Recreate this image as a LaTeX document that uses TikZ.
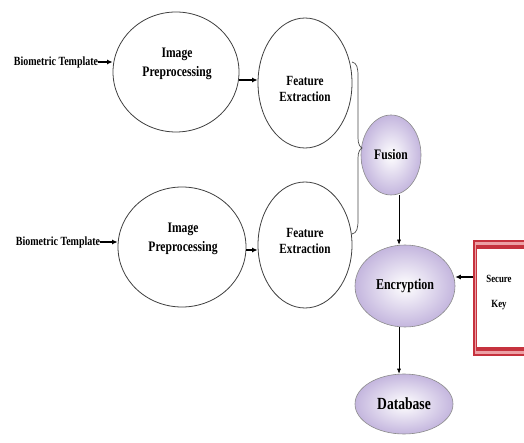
\documentclass[tikz,border=0pt]{standalone}
\usepackage{fontspec}
\setmainfont{Liberation Serif}[FakeStretch=0.8]
\usetikzlibrary{shapes.geometric,arrows.meta,calc}
\definecolor{lav}{RGB}{196,182,222}
\definecolor{keyred}{RGB}{198,50,62}
\definecolor{keypink}{RGB}{236,160,165}
\tikzset{
  plainell/.style={ellipse, draw=black!75, line width=0.8pt, inner sep=0pt},
  shadeell/.style={ellipse, draw=black!45, line width=0.6pt, inner color=white, outer color=lav, align=center, inner sep=0pt},
  lbl/.style={font=\bfseries\fontsize{12.5}{14}\selectfont, inner sep=0pt},
  ipfont/.style={font=\bfseries\fontsize{14.5}{19}\selectfont, align=center, inner sep=0pt},
  fefont/.style={font=\bfseries\fontsize{14}{16}\selectfont, align=center, inner sep=0pt},
  arr/.style={-{Latex[length=5.5pt,width=5pt]}, line width=1.1pt, black},
  thinarr/.style={-{Latex[length=5pt,width=4pt]}, line width=0.6pt, black}
}
\begin{document}
\begin{tikzpicture}[x=1pt,y=-1pt]
\useasboundingbox (0,0) rectangle (524,443);
\clip (0,0) rectangle (524,443);
\fill[white] (0,0) rectangle (524,443);
% top row
\node[lbl] (bt1) at (56,62) {Biometric Template};
\node[plainell, minimum width=126pt, minimum height=120pt] (ip1) at (176,72) {};
\node[ipfont] (ip1t) at (177,64) {Image\\Preprocessing};
\node[plainell, minimum width=94pt, minimum height=130pt] (fe1) at (305,83) {};
\node[fefont] (fe1t) at (305,89) {Feature\\Extraction};
% bottom row
\node[lbl] (bt2) at (58,242) {Biometric Template};
\node[plainell, minimum width=128pt, minimum height=120pt] (ip2) at (182,247) {};
\node[ipfont] (ip2t) at (183,239) {Image\\Preprocessing};
\node[plainell, minimum width=94pt, minimum height=126pt] (fe2) at (305,245) {};
\node[fefont] (fe2t) at (305,241) {Feature\\Extraction};
% right column
\node[shadeell, minimum width=60pt, minimum height=80pt, font=\bfseries\fontsize{14.5}{16}\selectfont] (fus) at (391,155) {Fusion};
\node[shadeell, minimum width=100pt, minimum height=82pt, font=\bfseries\fontsize{15}{17}\selectfont] (enc) at (405,286) {Encryption};
\node[shadeell, minimum width=98pt, minimum height=60pt, font=\bfseries\fontsize{17}{19}\selectfont] (db) at (404,404) {Database};
% secure key box
\node[fill=keyred, minimum width=60pt, minimum height=116pt, anchor=north west, inner sep=0pt] (key) at (473,240) {};
\fill[keypink] ($(key.north west)+(1.5,2.5)$) rectangle ($(key.south east)+(0,-2.5)$);
\fill[keyred] ($(key.north west)+(2.5,5)$) rectangle ($(key.south east)+(0,-5)$);
\fill[white] ($(key.north west)+(4,9)$) rectangle ($(key.south east)+(0,-9)$);
\node[font=\bfseries\fontsize{11}{25}\selectfont, align=center] (keytxt) at (499,293) {Secure\\Key};
% brace
\coordinate (bt) at (352,62);
\coordinate (bm) at (362,148);
\coordinate (bb) at (352,234);
\draw[black!70, line width=0.7pt]
  (bt) .. controls (357,63) and (358,68) .. (358,76)
  -- (358,138) .. controls (358,144) and (360,147) .. (bm)
  .. controls (360,149) and (358,152) .. (358,158)
  -- (358,220) .. controls (358,228) and (357,233) .. (bb);
% arrows
\draw[arr] (bt1.east) -- (bt1.east -| ip1.west);
\draw[arr] (bt2.east) -- (bt2.east -| ip2.west);
\draw[arr] ([yshift=-8pt]ip1.east) -- ([yshift=-8pt]ip1.east -| fe1.west);
\draw[arr] ([yshift=-3pt]ip2.east) -- ([yshift=-3pt]ip2.east -| fe2.west);
\draw[thinarr] ([xshift=8pt]fus.south) -- ([xshift=8pt]fus.south |- enc.north);
\draw[thinarr] ([xshift=-6pt]enc.south) -- ([xshift=-6pt]enc.south |- db.north);
\draw[arr] (key.west |- 0,277) -- (enc.east |- 0,277);
\end{tikzpicture}
\end{document}
